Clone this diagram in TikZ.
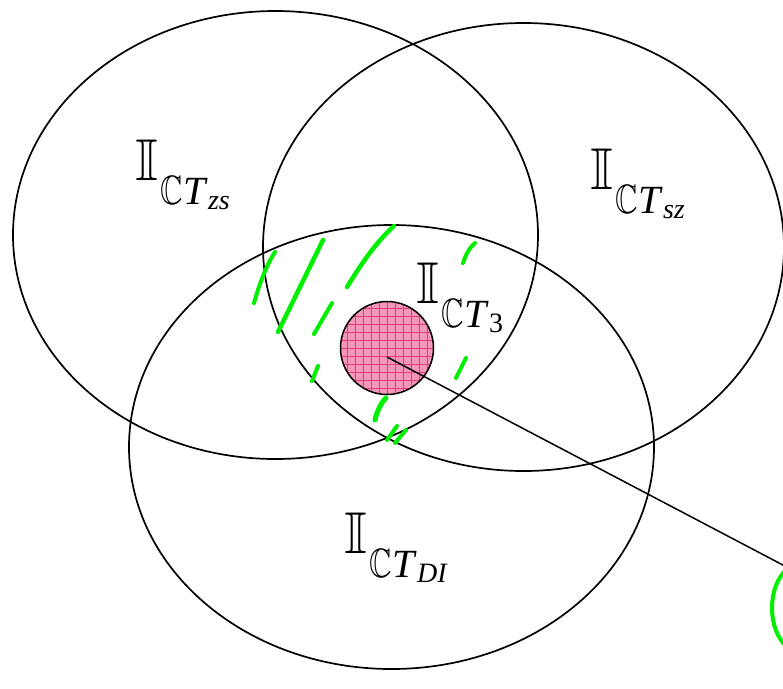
\documentclass[tikz,border=0pt]{standalone}
\usepackage{graphicx}
\usepackage{fontspec}
\setmainfont{Liberation Serif}
\usetikzlibrary{shapes.geometric,calc}
\definecolor{grn}{RGB}{0,240,0}
\definecolor{pinkfill}{RGB}{244,150,185}
\definecolor{pinkgrid}{RGB}{228,60,125}
\font\mybbI=msbm10 at 59pt
\font\mybbC=msbm10 at 41pt
\newcommand{\mylab}[1]{{\mybbI I}\hspace{3pt}\raisebox{-24pt}{\scalebox{0.76}[1]{\mybbC C}\fontsize{40}{40}\selectfont\textit{T}\raisebox{-5pt}{\fontsize{28}{28}\selectfont #1}}}
\begin{document}
\begin{tikzpicture}[x=1pt,y=-1pt,
  ell/.style={draw, ellipse, line width=1.7pt, inner sep=0pt, outer sep=0pt},
  gstroke/.style={draw=grn, line width=4pt, line cap=round},
  lbl/.style={anchor=base west, inner sep=0pt, outer sep=0pt}]
\useasboundingbox (0,0) rectangle (783,688);
\clip (0,0) rectangle (783,688);
% ellipses
\node[ell, minimum width=525pt, minimum height=448pt] (zs) at (275.5,235) {};
\node[ell, minimum width=521pt, minimum height=448pt] (sz) at (523.5,247) {};
\node[ell, minimum width=525pt, minimum height=444pt] (di) at (391.5,447) {};
% labels
\node[lbl] (lzs) at (135,180) {\mylab{\textit{zs}}};
\node[lbl] (lsz) at (590,189) {\mylab{\textit{sz}}};
\node[lbl] (lt3) at (416,303) {\mylab{3}};
\node[lbl] (ldi) at (344,553) {\mylab{\textit{DI}}};
% green strokes
\draw[gstroke] (254,303) .. controls (259,285) and (266,266) .. (275,252);
\draw[gstroke, line width=4.5pt] (278,332) -- (323,240);
\draw[gstroke, line width=4.5pt] (347,287) .. controls (360,266) and (375,243) .. (394,226);
\draw[gstroke] (314,334) -- (332,303);
\draw[gstroke] (312,381) -- (318,366);
\draw[gstroke] (463,263) .. controls (466,254) and (470,247) .. (475,243);
\draw[gstroke] (456,378) -- (466,358);
\draw[gstroke, line width=5pt] (375,420) .. controls (377,411) and (381,403) .. (386,398);
\draw[gstroke] (387,440) -- (397,426);
\draw[gstroke] (395,443) -- (406,430);
% pink circle
\node[circle, minimum size=93pt, inner sep=0pt, outer sep=0pt] (pc) at (387,348) {};
\begin{scope}
  \clip (pc.center) circle (46.5);
  \fill[pinkfill] (pc.center) circle (46.5);
  \foreach \d in {-48,-40,...,48} {
    \draw[pinkgrid, line width=0.7pt] ($(pc.center)+(\d,-50)$) -- ($(pc.center)+(\d,50)$);
    \draw[pinkgrid, line width=0.7pt] ($(pc.center)+(-50,\d)$) -- ($(pc.center)+(50,\d)$);
  }
\end{scope}
\draw[line width=1.5pt] (pc.center) circle (46.5);
% connector
\coordinate (ls) at (387,357);
\coordinate (le) at (800,574);
\draw[line width=1.5pt] (ls) -- (le);
% green arc at right edge
\node[draw=grn, ellipse, line width=4pt, minimum width=60pt, minimum height=90pt, inner sep=0pt] (garc) at (802,608) {};
\end{tikzpicture}
\end{document}
